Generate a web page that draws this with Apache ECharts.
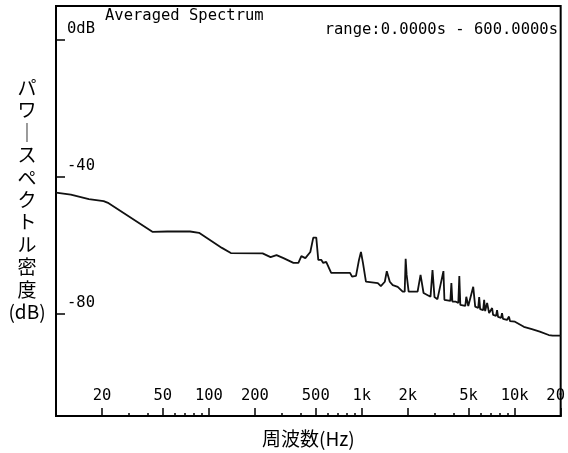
<!DOCTYPE html>
<html>
<head>
<meta charset="utf-8">
<script src="https://cdn.jsdelivr.net/npm/echarts@6/dist/echarts.min.js"></script>
<style>
  html, body { margin: 0; padding: 0; background: #fff; }
  #main { width: 568px; height: 453px; }
</style>
</head>
<body>
<div id="main"></div>
<script>
// 周波数 (Hz)
var freqHz = [10, 12.5, 16.4, 20.5, 22.1, 42.7, 53.4, 75.4, 86.2, 121.7, 139.2, 224.6, 253.2, 277, 307.6, 357.3, 385, 402.7, 427.5, 460.7,
  481.8, 504, 519.4, 543, 559.7, 585.3, 630.8, 838, 863.8, 917, 959, 988, 1018, 1065, 1274, 1333, 1415, 1458, 1525, 1595,
  1719, 1852, 1909, 1937, 1966, 2026, 2318, 2424, 2536, 2816, 2902, 2990, 3127, 3421, 3472, 3798, 3856, 3914, 4094, 4281,
  4346, 4412, 4755, 4827, 4974, 5359, 5521, 5775, 5862, 5950, 6223, 6317, 6413, 6607, 6808, 7015, 7121, 7228, 7558, 7674,
  7789, 8147, 8270, 8395, 8913, 9183, 9322, 10045, 11490, 12955, 14604, 16711, 17740, 20000];
// パワースペクトル密度 (dB)
var levelDb = [-44.6, -45.2, -46.5, -47.1, -47.7, -56.1, -56.0, -56.0, -56.4, -60.8, -62.3, -62.4, -63.5, -62.9, -63.8, -65.2, -65.2, -63.2, -63.8, -62.0,
  -57.8, -57.8, -64.3, -64.3, -65.2, -64.9, -68.1, -68.1, -69.2, -69.0, -64.3, -62.0, -65.2, -70.7, -71.1, -72.0, -70.7, -67.6, -70.7, -71.7,
  -72.2, -73.6, -73.6, -64.0, -68.7, -73.6, -73.6, -68.7, -74.0, -75.1, -67.3, -75.2, -75.8, -67.6, -76.0, -76.3, -71.1, -76.5, -76.5, -76.9,
  -69.0, -77.5, -77.8, -75.1, -77.8, -72.2, -78.0, -78.4, -75.2, -78.7, -79.0, -76.0, -79.3, -76.9, -79.9, -79.9, -78.4, -80.4, -80.7, -79.0,
  -81.0, -81.3, -79.9, -81.6, -81.9, -80.9, -82.2, -82.4, -83.9, -84.6, -85.3, -86.3, -86.5, -86.5];

// 目盛り
var majorTicks = [20, 50, 100, 200, 500, 1000, 2000, 5000, 10000, 20000];
var minorTicks = [30, 40, 60, 70, 80, 90, 300, 400, 600, 700, 800, 900, 3000, 4000, 6000, 7000, 8000, 9000];
var yTicks = [0, -40, -80];

var monoFont = '"DejaVu Sans Mono", "Liberation Mono", monospace';
var jpFont = '"Noto Sans CJK JP", sans-serif';

var points = [];
for (var i = 0; i < freqHz.length; i++) {
  points.push([freqHz[i], levelDb[i]]);
}

var chart = echarts.init(document.getElementById('main'));

var option = {
  backgroundColor: '#fff',
  animation: false,
  title: [
    {
      text: 'Averaged Spectrum',
      left: 105, top: 8, padding: 0,
      textStyle: { fontFamily: monoFont, fontSize: 15.5, fontWeight: 'normal', color: '#000' }
    },
    {
      text: 'range:0.0000s - 600.0000s',
      right: 10, top: 22, padding: 0,
      textStyle: { fontFamily: monoFont, fontSize: 15.5, fontWeight: 'normal', color: '#000' }
    }
  ],
  grid: {
    left: 56, right: 4, top: 6, bottom: 37,
    show: true, borderColor: '#000', borderWidth: 2
  },
  xAxis: [
    {
      type: 'log', min: 10, max: 20000,
      name: '周波数(Hz)', nameLocation: 'middle', nameGap: 13,
      nameTextStyle: { fontFamily: jpFont, fontSize: 19, color: '#000' },
      axisLine: { onZero: false, lineStyle: { color: '#000', width: 2 } },
      axisTick: { inside: true, length: 8, customValues: majorTicks, lineStyle: { color: '#000', width: 1.5 } },
      axisLabel: {
        inside: true, margin: 12, customValues: majorTicks, color: '#000',
        fontFamily: monoFont, fontSize: 15.5,
        formatter: function (v) {
          if (v >= 20000) return '{r|20}';
          return v >= 1000 ? (v / 1000) + 'k' : String(v);
        },
        rich: { r: { fontFamily: monoFont, fontSize: 15.5, color: '#000', padding: [0, 10, 0, 0] } }
      },
      splitLine: { show: false },
      minorTick: { show: false }
    },
    {
      // 補助目盛り
      type: 'log', min: 10, max: 20000, position: 'bottom',
      axisLine: { show: false, onZero: false },
      axisTick: { inside: true, length: 3, customValues: minorTicks, lineStyle: { color: '#000', width: 1.5 } },
      axisLabel: { show: false },
      splitLine: { show: false }
    }
  ],
  yAxis: {
    type: 'value', min: -110, max: 10,
    // 縦書き風（最後の空行で少し上へ）
    name: 'パ\nワ\n｜\nス\nペ\nク\nト\nル\n密\n度\n(dB)\n ',
    nameLocation: 'middle', nameRotate: 0, nameGap: 29,
    nameTextStyle: {
      fontFamily: jpFont, fontSize: 19, color: '#000', lineHeight: 22.4,
      align: 'center', verticalAlign: 'middle'
    },
    axisLine: { lineStyle: { color: '#000', width: 2 } },
    axisTick: { inside: true, length: 9, customValues: yTicks, lineStyle: { color: '#000', width: 1.5 } },
    axisLabel: {
      inside: true, margin: 11, customValues: yTicks, color: '#000',
      fontFamily: monoFont, fontSize: 15.5, align: 'left', verticalAlign: 'bottom',
      padding: [0, 0, 3, 0],
      formatter: function (v) { return v === 0 ? '0dB' : String(v); }
    },
    splitLine: { show: false }
  },
  series: [{
    type: 'line',
    data: points,
    showSymbol: false,
    lineStyle: { color: '#111', width: 1.8 }
  }]
};

chart.setOption(option);
</script>
</body>
</html>
